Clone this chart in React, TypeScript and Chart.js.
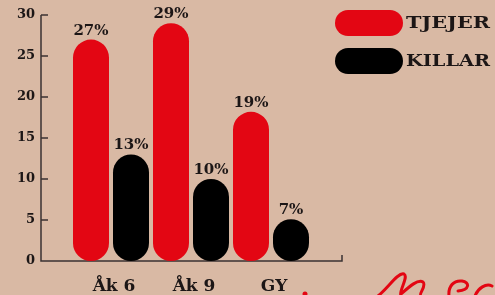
import { useEffect, useRef } from "react";
import { Chart, registerables } from "chart.js";

Chart.register(...registerables);

const categories = ["Åk 6", "Åk 9", "GY"];
const seriesNames = ["TJEJER", "KILLAR"];
const tjejer = [27, 29, 18.2];
const killar = [13, 10, 5.1];
const tjejerLabels = ["27%", "29%", "19%"];
const killarLabels = ["13%", "10%", "7%"];
const seriesColors = ["#e30613", "#000000"];
const yTicks = [0, 5, 10, 15, 20, 25, 30];

const BG = "#d9b9a4";
const INK = "#1c1616";
const SERIF = "'DejaVu Serif', serif";

export default function App() {
  const ref = useRef<HTMLCanvasElement | null>(null);

  useEffect(() => {
    const canvas = ref.current;
    if (!canvas) return;
    const valueLabels = [tjejerLabels, killarLabels];

    const decorPlugin = {
      id: "decor",
      beforeDatasetsDraw(chart: any) {
        const { ctx, chartArea, scales } = chart;
        const y0 = scales.y.getPixelForValue(0);
        ctx.save();
        ctx.strokeStyle = "#3a3232";
        ctx.lineWidth = 1.5;
        ctx.beginPath();
        ctx.moveTo(chartArea.left, chartArea.top);
        ctx.lineTo(chartArea.left, y0);
        ctx.lineTo(chartArea.right, y0);
        ctx.lineTo(chartArea.right, y0 - 6);
        ctx.stroke();
        yTicks.forEach((t) => {
          if (t === 0) return;
          const py = scales.y.getPixelForValue(t);
          ctx.beginPath();
          ctx.moveTo(chartArea.left, py);
          ctx.lineTo(chartArea.left + 7, py);
          ctx.stroke();
        });
        ctx.restore();
      },
      afterDatasetsDraw(chart: any) {
        const { ctx } = chart;
        ctx.save();
        ctx.fillStyle = INK;
        ctx.font = `bold 15px ${SERIF}`;
        ctx.textAlign = "center";
        ctx.textBaseline = "alphabetic";
        chart.data.datasets.forEach((ds: any, di: number) => {
          const meta = chart.getDatasetMeta(di);
          meta.data.forEach((el: any, i: number) => {
            ctx.fillText(valueLabels[di][i], el.x, el.y - 5);
          });
        });
        // legend
        chart.data.datasets.forEach((ds: any, di: number) => {
          const top = 10 + di * 38;
          ctx.fillStyle = ds.backgroundColor;
          ctx.beginPath();
          (ctx as any).roundRect(335, top, 68, 26, 13);
          ctx.fill();
          ctx.fillStyle = INK;
          ctx.font = `bold 16px ${SERIF}`;
          ctx.textAlign = "left";
          ctx.textBaseline = "middle";
          const w = ctx.measureText(ds.label).width;
          ctx.save();
          ctx.translate(406, top + 13.5);
          ctx.scale(84 / w, 1);
          ctx.fillText(ds.label, 0, 0);
          ctx.restore();
        });
        // red handwritten scribble at the bottom
        ctx.strokeStyle = "#e30613";
        ctx.fillStyle = "#e30613";
        ctx.lineWidth = 3;
        ctx.lineCap = "round";
        ctx.beginPath();
        ctx.arc(305, 294, 2.5, 0, Math.PI * 2);
        ctx.fill();
        ctx.beginPath();
        ctx.moveTo(378, 296);
        ctx.bezierCurveTo(388, 288, 398, 272, 404, 274);
        ctx.bezierCurveTo(409, 277, 398, 292, 401, 296);
        ctx.moveTo(401, 294);
        ctx.bezierCurveTo(410, 286, 418, 279, 423, 282);
        ctx.bezierCurveTo(427, 286, 418, 294, 421, 296);
        ctx.moveTo(449, 296);
        ctx.bezierCurveTo(448, 286, 454, 280, 462, 281);
        ctx.bezierCurveTo(470, 282, 470, 290, 458, 291);
        ctx.moveTo(475, 296);
        ctx.bezierCurveTo(478, 288, 486, 283, 492, 286);
        ctx.stroke();
        ctx.restore();
      },
    };

    const chart = new Chart(canvas, {
      type: "bar",
      data: {
        datasets: [tjejer, killar].map((vals, di) => ({
          label: seriesNames[di],
          data: vals.map((v, i) => ({ x: i + 1, y: v })),
          backgroundColor: seriesColors[di],
          borderRadius: 18,
          borderSkipped: false,
          categoryPercentage: 1,
          barPercentage: 0.9,
        })),
      },
      options: {
        responsive: false,
        animation: false,
        layout: { padding: { top: 15, right: 153, left: 0, bottom: 0 } },
        plugins: { legend: { display: false }, tooltip: { enabled: false } },
        scales: {
          x: {
            type: "linear",
            offset: false,
            min: 0.125,
            max: 3.8875,
            afterBuildTicks: (scale: any) => {
              scale.ticks = categories.map((_, i) => ({ value: i + 1 }));
            },
            afterFit: (scale: any) => {
              scale.height = 34;
            },
            grid: { display: false, drawTicks: false, offset: false },
            border: { display: false },
            ticks: {
              autoSkip: false,
              maxRotation: 0,
              padding: 15,
              labelOffset: 3,
              color: INK,
              font: { family: SERIF, size: 17, weight: "bold" },
              callback: (v: any) => categories[Math.round(Number(v)) - 1] ?? "",
            },
          },
          y: {
            min: 0,
            max: 30,
            afterBuildTicks: (scale: any) => {
              scale.ticks = yTicks.map((v) => ({ value: v }));
            },
            afterFit: (scale: any) => {
              scale.width = 41;
            },
            grid: { display: false, drawTicks: false },
            border: { display: false },
            ticks: {
              padding: 6,
              color: INK,
              font: { family: SERIF, size: 13, weight: "bold" },
            },
          },
        },
      },
      plugins: [decorPlugin],
    });
    return () => chart.destroy();
  }, []);

  return (
    <div
      style={{
        position: "fixed",
        left: 0,
        top: 0,
        width: 495,
        height: 295,
        background: BG,
        overflow: "hidden",
      }}
    >
      <canvas ref={ref} width={495} height={295} style={{ display: "block" }} />
    </div>
  );
}
